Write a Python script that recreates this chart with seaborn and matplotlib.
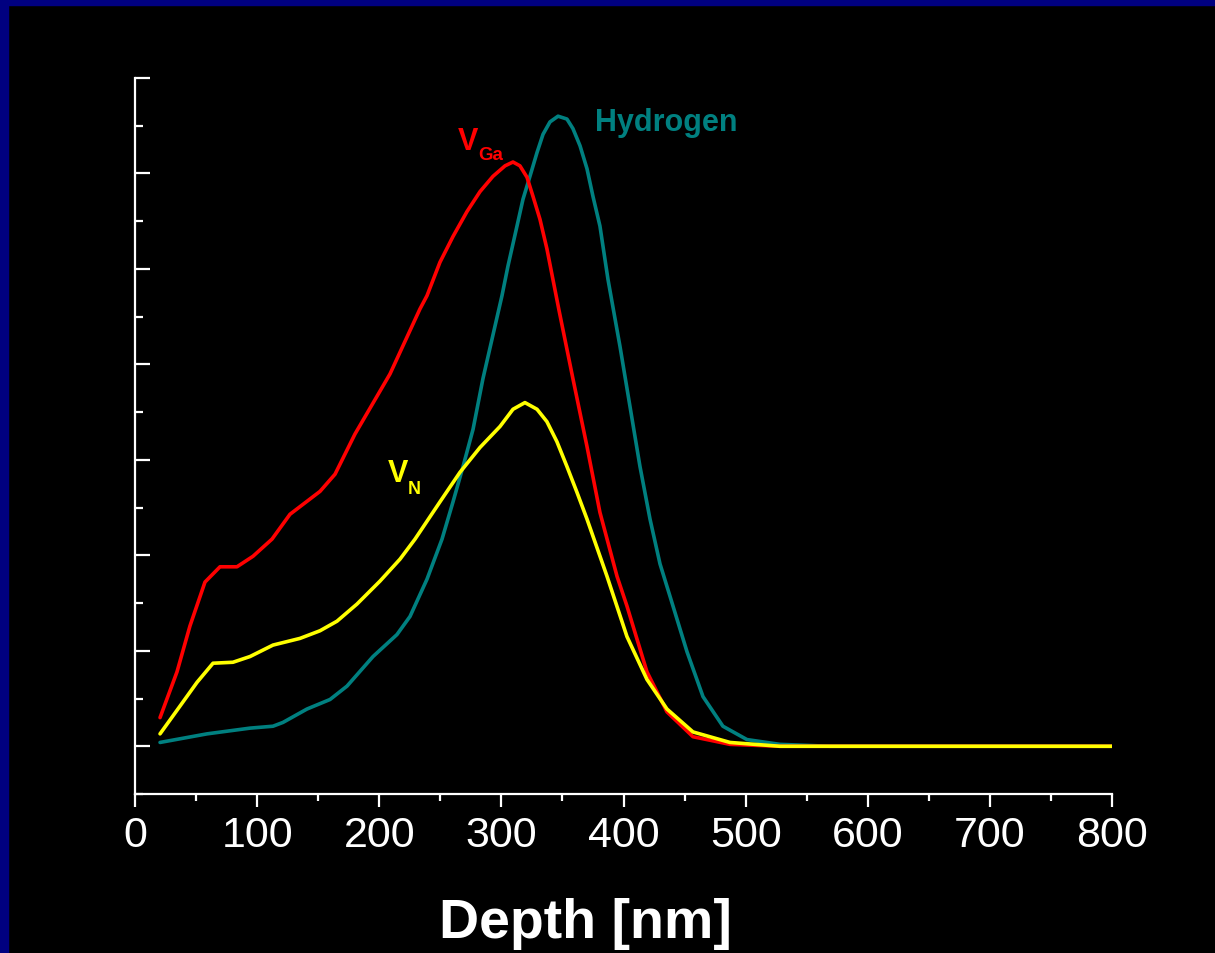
import numpy as np
import pandas as pd
import matplotlib
matplotlib.use("Agg")
import matplotlib.pyplot as plt
import seaborn as sns
from matplotlib.ticker import MultipleLocator
from matplotlib.patches import Rectangle

# depth profiles (arbitrary units)
vga_depth = [20.5, 34.4, 45.0, 57.3, 69.6, 83.5, 96.6, 112.2, 126.9, 151.5, 163.8, 180.1,
             208.8, 233.3, 239.1, 249.7, 260.4, 271.8, 282.5, 293.1, 303.0, 309.5, 315.2,
             321.0, 325.9, 331.6, 337.3, 347.3, 358.6, 370.1, 380.7, 394.7, 402.8, 419.2,
             435.6, 456.9, 487.2, 528.0, 800.0]
vga_conc = [0.30, 0.78, 1.26, 1.72, 1.88, 1.88, 1.99, 2.17, 2.43, 2.67, 2.85, 3.27,
            3.90, 4.58, 4.72, 5.07, 5.34, 5.60, 5.81, 5.97, 6.08, 6.12, 6.08,
            5.96, 5.76, 5.52, 5.21, 4.56, 3.85, 3.14, 2.45, 1.78, 1.47, 0.78,
            0.36, 0.10, 0.02, 0.0, 0.0]

vn_depth = [20.5, 36.8, 50.8, 63.9, 80.2, 94.2, 113.0, 135.1, 151.5, 165.4, 181.8, 200.6,
            217.0, 229.3, 249.7, 266.1, 282.5, 298.9, 309.5, 319.3, 329.2, 337.3, 345.5,
            353.7, 361.9, 370.1, 386.5, 402.8, 419.2, 435.6, 456.9, 487.2, 528.1, 800.0]
vn_conc = [0.13, 0.42, 0.67, 0.87, 0.88, 0.94, 1.06, 1.13, 1.21, 1.31, 1.49, 1.73,
           1.96, 2.17, 2.56, 2.87, 3.13, 3.35, 3.53, 3.60, 3.53, 3.40, 3.19,
           2.93, 2.66, 2.38, 1.78, 1.15, 0.70, 0.39, 0.15, 0.04, 0.0, 0.0]

h_depth = [20.5, 59.0, 94.2, 113.0, 121.2, 140.8, 159.7, 173.6, 194.9, 214.5, 225.2, 239.1,
           251.4, 260.4, 268.6, 276.8, 284.9, 300.5, 305.4, 312.8, 317.7, 323.4, 329.2,
           334.1, 339.8, 346.4, 353.7, 358.6, 364.4, 370.1, 375.0, 380.7, 387.3, 397.1,
           405.3, 413.5, 421.7, 429.9, 438.1, 452.0, 465.1, 481.4, 501.1, 528.1, 569.1,
           800.0]
h_conc = [0.04, 0.13, 0.19, 0.21, 0.25, 0.39, 0.49, 0.63, 0.94, 1.17, 1.36, 1.75,
          2.17, 2.56, 2.93, 3.32, 3.85, 4.72, 5.03, 5.45, 5.73, 5.97, 6.22,
          6.41, 6.54, 6.60, 6.57, 6.47, 6.29, 6.05, 5.76, 5.45, 4.89, 4.19,
          3.56, 2.93, 2.38, 1.91, 1.57, 0.99, 0.52, 0.21, 0.07, 0.02, 0.0,
          0.0]

x_ticks = [0, 100, 200, 300, 400, 500, 600, 700, 800]

df = pd.concat([
    pd.DataFrame({'depth': h_depth, 'conc': h_conc, 'species': 'Hydrogen'}),
    pd.DataFrame({'depth': vga_depth, 'conc': vga_conc, 'species': 'VGa'}),
    pd.DataFrame({'depth': vn_depth, 'conc': vn_conc, 'species': 'VN'}),
])
colors = {'Hydrogen': '#008080', 'VGa': '#FF0000', 'VN': '#FFFF00'}

sns.set_style("dark", {'axes.facecolor': 'black', 'figure.facecolor': 'black'})
plt.rcParams['font.family'] = ['Liberation Sans', 'DejaVu Sans']

fig = plt.figure(figsize=(12.15, 9.54), dpi=100)
fig.patch.set_facecolor('black')
# navy frame on the top and left edges
fig.patches.append(Rectangle((0, 1 - 6 / 954), 1, 6 / 954, transform=fig.transFigure,
                             color='#000080', zorder=0))
fig.patches.append(Rectangle((0, 0), 8 / 1215, 1, transform=fig.transFigure,
                             color='#000080', zorder=0))

ax = fig.add_axes([135 / 1215, 1 - 795 / 954, (1112 - 135) / 1215, (795 - 79) / 954])
ax.set_facecolor('black')
sns.lineplot(data=df, x='depth', y='conc', hue='species', palette=colors,
             linewidth=2.6, legend=False, ax=ax, sort=False, estimator=None)
for line in ax.lines:
    line.set_solid_joinstyle('round')
    line.set_solid_capstyle('round')

ax.set_xlim(0, 800)
ax.set_ylim(-0.5, 7)
ax.set_xticks(x_ticks)
ax.xaxis.set_minor_locator(MultipleLocator(50))
ax.yaxis.set_major_locator(MultipleLocator(1))
ax.yaxis.set_minor_locator(MultipleLocator(0.5))
ax.set_yticklabels([])
ax.set_xlabel('')
ax.set_ylabel('')
ax.grid(False)

for side in ['top', 'right']:
    ax.spines[side].set_visible(False)
for side in ['left', 'bottom']:
    ax.spines[side].set_visible(True)
    ax.spines[side].set_color('white')
    ax.spines[side].set_linewidth(1.6)

ax.tick_params(axis='x', which='major', direction='out', length=9, width=1.6,
               colors='white', labelsize=31, pad=6, bottom=True)
ax.tick_params(axis='x', which='minor', direction='out', length=5, width=1.6,
               colors='white', bottom=True)
ax.tick_params(axis='y', which='major', direction='in', length=11, width=1.6,
               colors='white', left=True)
ax.tick_params(axis='y', which='minor', direction='in', length=6, width=1.6,
               colors='white', left=True)

# curve labels
ax.text(376.6, 6.455, 'Hydrogen', color='#008080', fontsize=22, fontweight='bold',
        ha='left', va='baseline')
ax.text(264.5, 6.26, 'V', color='#FF0000', fontsize=22, fontweight='bold',
        ha='left', va='baseline')
ax.text(280.9, 6.15, 'Ga', color='#FF0000', fontsize=13.5, fontweight='bold',
        ha='left', va='baseline')
ax.text(207.2, 2.78, 'V', color='#FFFF00', fontsize=22, fontweight='bold',
        ha='left', va='baseline')
ax.text(223.5, 2.65, 'N', color='#FFFF00', fontsize=13, fontweight='bold',
        ha='left', va='baseline')

fig.text(585 / 1215, 1 - 938 / 954, 'Depth [nm]', color='white', fontsize=40,
         fontweight='bold', ha='center', va='baseline')

fig.savefig('out.png', dpi=100, facecolor='black')
